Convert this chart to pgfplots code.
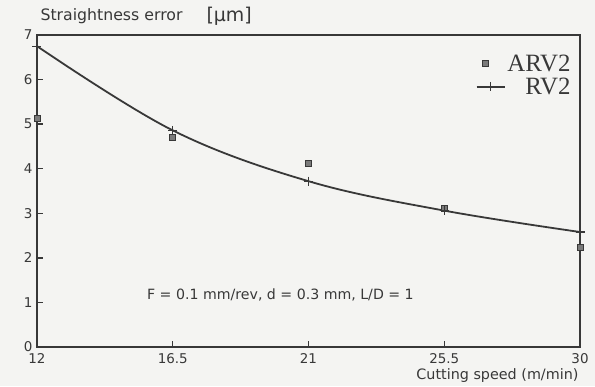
\documentclass[border=0pt]{standalone}
\usepackage{fontspec}
\setmainfont{DejaVu Sans}
\newfontfamily\legendfont{Liberation Serif}
\usepackage{pgfplots}
\pgfplotsset{compat=1.18}
\definecolor{ink}{HTML}{383838}
\definecolor{paper}{HTML}{F4F4F2}
\definecolor{markfill}{HTML}{7A7A7A}

\begin{document}
\begin{tikzpicture}
% page background
\fill[paper] (-37bp,-39bp) rectangle (558bp,347bp);
\begin{axis}[
  scale only axis, width=543bp, height=312bp,
  xmin=12, xmax=30, ymin=0, ymax=7,
  xtick={12,16.5,21,25.5,30}, ytick={0,1,...,7},
  tick align=inside, xtick pos=bottom, ytick pos=left,
  major tick length=6bp,
  axis line style={ink, line width=2bp},
  tick style={ink, line width=1.3bp},
  ticklabel style={font=\fontsize{13.5}{15}\selectfont, text=ink},
  xticklabel style={yshift=-3bp},
  yticklabel style={xshift=-1bp},
  /pgf/number format/assume math mode=true,
  clip=false,
  legend style={at={(0.992,0.95)}, anchor=north east, draw=none, fill=none,
    font=\legendfont\fontsize{25}{28}\selectfont, text=ink, row sep=1bp,
    cells={anchor=east}},
]
% ARV2 measurements
\addplot[only marks, mark=square*, mark size=3bp,
  mark options={fill=markfill, draw=ink, line width=0.8bp}]
  coordinates {(12,5.13) (16.5,4.71) (21,4.13) (25.5,3.12) (30,2.24)};
\addlegendentry{ARV2}
% RV2 measurements with trend curve
\addplot[ink, line width=1.8bp, smooth, tension=0.6, mark=+, mark size=4.5bp,
  mark options={line width=1.2bp},
  legend image code/.code={\draw[mark repeat=2,mark phase=2]
    plot coordinates {(0bp,0bp) (14bp,0bp) (28bp,0bp)};}]
  coordinates {(12,6.75) (16.5,4.86) (21,3.72) (25.5,3.06) (30,2.58)};
\addlegendentry{RV2}

\node[font=\fontsize{14.2}{16}\selectfont, text=ink] at (axis cs:20.07,1.17)
  {F = 0.1 mm/rev, d = 0.3 mm, L/D = 1};
\node[anchor=base west, font=\fontsize{15.8}{18}\selectfont, text=ink]
  at ([yshift=15bp]axis description cs:0,1) {Straightness error};
\node[anchor=base west, font=\fontsize{19}{21}\selectfont, text=ink]
  at ([xshift=166bp,yshift=14bp]axis description cs:0,1) {[µm]};
\node[anchor=base east, font=\fontsize{14.4}{16}\selectfont, text=ink]
  at ([xshift=2bp,yshift=-33bp]axis description cs:1,0) {Cutting speed (m/min)};
\end{axis}
\end{tikzpicture}
\end{document}
